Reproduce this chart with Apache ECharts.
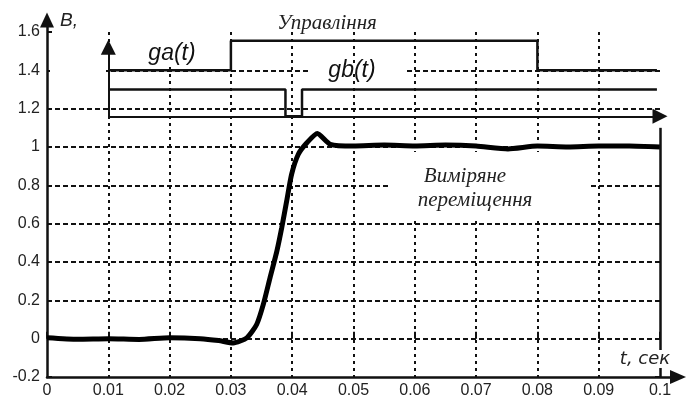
<!DOCTYPE html>
<html>
<head>
<meta charset="utf-8">
<script src="https://cdn.jsdelivr.net/npm/echarts@6/dist/echarts.min.js"></script>
<style>
    html, body { margin: 0; padding: 0; background: #fff; }
    #chart { width: 690px; height: 400px; }
</style>
</head>
<body>
<div id="chart"></div>
<script>
// measured displacement (thick curve)
const measuredTime = [0, 0.005, 0.01, 0.015, 0.02, 0.025, 0.028, 0.0304, 0.0326, 0.0342,
    0.0353, 0.0364, 0.0375, 0.0383, 0.0391, 0.0399, 0.041, 0.0424, 0.0441, 0.0462,
    0.05, 0.055, 0.06, 0.065, 0.07, 0.0752, 0.08, 0.085, 0.09, 0.095, 0.1];
const measuredValue = [0.005, -0.003, 0.0, -0.004, 0.005, 0.0, -0.01, -0.022, 0.004, 0.074,
    0.18, 0.32, 0.457, 0.58, 0.718, 0.857, 0.962, 1.022, 1.07, 1.014,
    1.005, 1.01, 1.005, 1.01, 1.005, 0.99, 1.005, 1.0, 1.005, 1.005, 1.0];

// control signals
const gaTime = [0.01, 0.03, 0.08, 0.0995];
const gaValue = [1.4, 1.555, 1.4, 1.4];
const gbTime = [0.01, 0.0389, 0.0416, 0.0995];
const gbValue = [1.3, 1.16, 1.3, 1.3];

// small axes of the control block and the right frame
const signalOrigin = [0.01, 1.16];
const signalTimeEnd = 0.1;
const signalValueEnd = 1.52;
const frameTime = 0.1;
const frameValues = [-0.2, 1.1];

const rightTicks = [-0.2, 0, 0.2, 0.4, 0.6, 0.8, 1.0];

window.onload = () => {
    new DisplacementChart().main();
};

class DisplacementChart {
    chart;

    main() {
        this.chart = echarts.init(document.getElementById('chart'));
        this.chart.setOption(this.buildOption());
    }

    zip(xs, ys) {
        return xs.map((x, i) => [x, ys[i]]);
    }

    buildOption() {
        let black = '#111';
        let labelFont = {color: '#222', fontFamily: 'Liberation Sans', fontSize: 16};

        return {
            animation: false,
            backgroundColor: '#fff',
            grid: [
                {left: 47, right: 30, top: 32, bottom: 23},
                {left: 47, right: 12, top: 20, bottom: 23}
            ],
            xAxis: [{
                gridIndex: 0, type: 'value', min: 0, max: 0.1, interval: 0.01,
                axisLine: {show: false},
                axisTick: {inside: true, length: 7, lineStyle: {color: black, width: 2}},
                axisLabel: Object.assign({
                    margin: 6,
                    formatter: v => String(+v.toFixed(2))
                }, labelFont),
                splitLine: {
                    show: true, showMinLine: false, showMaxLine: false,
                    lineStyle: {color: black, width: 2, type: [3, 4]}
                }
            }, {
                gridIndex: 1, type: 'value', min: 0, max: 1,
                axisLine: {
                    show: true, symbol: ['none', 'triangle'], symbolSize: [14, 16],
                    lineStyle: {color: black, width: 2.5}
                },
                axisTick: {show: false}, axisLabel: {show: false}, splitLine: {show: false}
            }],
            yAxis: [{
                gridIndex: 0, type: 'value', min: -0.2, max: 1.6, interval: 0.2,
                axisLine: {show: false},
                axisTick: {show: true, inside: true, length: 5, lineStyle: {color: black, width: 2}},
                axisLabel: Object.assign({
                    margin: 7,
                    formatter: v => String(+v.toFixed(1))
                }, labelFont),
                splitLine: {
                    show: true, showMinLine: false, showMaxLine: false,
                    lineStyle: {color: black, width: 2, type: [5, 3]}
                }
            }, {
                gridIndex: 0, type: 'value', min: -0.2, max: 1.6, interval: 0.2, position: 'right',
                axisLine: {show: false},
                axisTick: {show: true, inside: true, length: 5, customValues: rightTicks,
                    lineStyle: {color: black, width: 2}},
                axisLabel: {show: false}, splitLine: {show: false}
            }, {
                gridIndex: 1, type: 'value', min: 0, max: 1,
                axisLine: {
                    show: true, symbol: ['none', 'triangle'], symbolSize: [14, 15],
                    lineStyle: {color: black, width: 2.5}
                },
                axisTick: {show: false}, axisLabel: {show: false}, splitLine: {show: false}
            }],
            series: [{
                name: 'measured', type: 'line', xAxisIndex: 0, yAxisIndex: 0,
                data: this.zip(measuredTime, measuredValue),
                symbol: 'none', smooth: 0.2, z: 4,
                lineStyle: {color: '#000', width: 5},
                markLine: {
                    silent: true, symbol: 'none', animation: false,
                    label: {show: false},
                    lineStyle: {color: black, width: 2.5, type: 'solid'},
                    data: [[{coord: [frameTime, frameValues[0]]}, {coord: [frameTime, frameValues[1]]}]]
                }
            }, {
                name: 'ga', type: 'line', xAxisIndex: 0, yAxisIndex: 0,
                data: this.zip(gaTime, gaValue),
                step: 'end', symbol: 'none', z: 3,
                lineStyle: {color: black, width: 2.5}
            }, {
                name: 'gb', type: 'line', xAxisIndex: 0, yAxisIndex: 0,
                data: this.zip(gbTime, gbValue),
                step: 'end', symbol: 'none', z: 3,
                lineStyle: {color: black, width: 2.5},
                markLine: {
                    silent: true, symbol: ['none', 'triangle'], symbolSize: 15, animation: false,
                    label: {show: false},
                    lineStyle: {color: black, width: 2, type: 'solid'},
                    data: [
                        [{coord: signalOrigin}, {coord: [signalTimeEnd, signalOrigin[1]]}],
                        [{coord: signalOrigin}, {coord: [signalOrigin[0], signalValueEnd]}]
                    ]
                }
            }],
            graphic: [
                // gaps in the grid behind the captions
                {type: 'rect', z: 5, shape: {x: 50, y: 66, width: 56, height: 8}, style: {fill: '#fff'}},
                {type: 'rect', z: 5, shape: {x: 143, y: 30, width: 58, height: 36}, style: {fill: '#fff'}},
                {type: 'rect', z: 5, shape: {x: 310, y: 66, width: 95, height: 8}, style: {fill: '#fff'}},
                {type: 'rect', z: 5, shape: {x: 390, y: 152, width: 198, height: 67}, style: {fill: '#fff'}},
                {type: 'text', z: 6, left: 60, top: 11, style: {
                    text: 'B,', fill: '#222', font: 'italic 19px "Liberation Sans"'}},
                {type: 'text', z: 6, x: 327, y: 23, style: {
                    text: 'Управління', fill: '#222', font: 'italic 21px "Liberation Serif"',
                    align: 'center', verticalAlign: 'middle'}},
                {type: 'text', z: 6, x: 172, y: 54, style: {
                    text: 'ga(t)', fill: '#111', font: 'italic 23px "Liberation Sans"',
                    align: 'center', verticalAlign: 'middle'}},
                {type: 'text', z: 6, x: 352, y: 71, style: {
                    text: 'gb(t)', fill: '#111', font: 'italic 23px "Liberation Sans"',
                    align: 'center', verticalAlign: 'middle'}},
                {type: 'text', z: 6, x: 465, y: 176, style: {
                    text: 'Виміряне', fill: '#222', font: 'italic 21px "Liberation Serif"',
                    align: 'center', verticalAlign: 'middle'}},
                {type: 'text', z: 6, x: 475, y: 200, style: {
                    text: 'переміщення', fill: '#222', font: 'italic 21px "Liberation Serif"',
                    align: 'center', verticalAlign: 'middle'}},
                {type: 'text', z: 6, x: 645, y: 359, style: {
                    text: 't, сек', fill: '#222', font: 'italic 18px "DejaVu Sans"',
                    align: 'center', verticalAlign: 'middle',
                    backgroundColor: '#fff', padding: [0, 1]}}
            ]
        };
    }
}
</script>
</body>
</html>
